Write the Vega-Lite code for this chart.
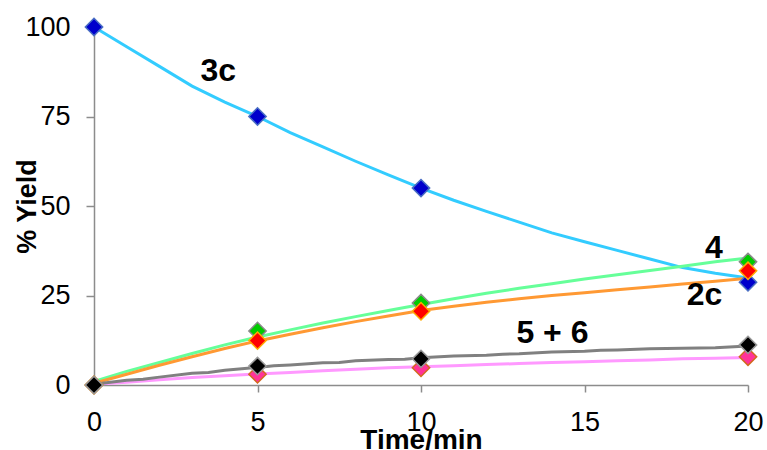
{
  "$schema": "https://vega.github.io/schema/vega-lite/v6.json",
  "width": 654,
  "height": 358,
  "autosize": {"type": "none"},
  "padding": {"left": 94, "top": 27, "right": 19, "bottom": 65},
  "background": "white",
  "config": {
    "view": {"stroke": null},
    "font": "Liberation Sans",
    "axis": {
      "grid": false,
      "domainColor": "#8c8c8c",
      "domainWidth": 1.5,
      "tickColor": "#8c8c8c",
      "tickWidth": 1.5,
      "labelColor": "#000000",
      "labelFont": "Liberation Sans",
      "labelFontSize": 27,
      "titleFont": "Liberation Sans",
      "titleFontWeight": "bold",
      "titleColor": "#000000"
    }
  },
  "datasets": {
    "curves": [
      {"t": 0, "v": 100, "s": "3c"}, {"t": 1, "v": 94.5, "s": "3c"}, {"t": 2, "v": 89, "s": "3c"}, {"t": 3, "v": 83.5, "s": "3c"}, {"t": 4, "v": 79, "s": "3c"}, {"t": 5, "v": 75, "s": "3c"}, {"t": 6, "v": 70.5, "s": "3c"}, {"t": 7, "v": 66.5, "s": "3c"}, {"t": 8, "v": 62.5, "s": "3c"}, {"t": 9, "v": 58.7, "s": "3c"}, {"t": 10, "v": 55, "s": "3c"}, {"t": 11, "v": 51.6, "s": "3c"}, {"t": 12, "v": 48.5, "s": "3c"}, {"t": 13, "v": 45.5, "s": "3c"}, {"t": 14, "v": 42.5, "s": "3c"}, {"t": 15, "v": 40, "s": "3c"}, {"t": 16, "v": 37.6, "s": "3c"}, {"t": 17, "v": 35.2, "s": "3c"}, {"t": 18, "v": 32.8, "s": "3c"}, {"t": 19, "v": 31.2, "s": "3c"}, {"t": 20, "v": 29.9, "s": "3c"},
      {"t": 0, "v": 1, "s": "4"}, {"t": 1, "v": 3.8, "s": "4"}, {"t": 2, "v": 6.3, "s": "4"}, {"t": 3, "v": 8.8, "s": "4"}, {"t": 4, "v": 11.2, "s": "4"}, {"t": 5, "v": 13.4, "s": "4"}, {"t": 6, "v": 15.4, "s": "4"}, {"t": 7, "v": 17.3, "s": "4"}, {"t": 8, "v": 19.1, "s": "4"}, {"t": 9, "v": 20.8, "s": "4"}, {"t": 10, "v": 22.5, "s": "4"}, {"t": 11, "v": 24.1, "s": "4"}, {"t": 12, "v": 25.6, "s": "4"}, {"t": 13, "v": 27, "s": "4"}, {"t": 14, "v": 28.3, "s": "4"}, {"t": 15, "v": 29.6, "s": "4"}, {"t": 16, "v": 30.8, "s": "4"}, {"t": 17, "v": 32, "s": "4"}, {"t": 18, "v": 33.2, "s": "4"}, {"t": 19, "v": 34.4, "s": "4"}, {"t": 20, "v": 35.5, "s": "4"},
      {"t": 0, "v": 0.5, "s": "2c"}, {"t": 1, "v": 3, "s": "2c"}, {"t": 2, "v": 5.5, "s": "2c"}, {"t": 3, "v": 7.9, "s": "2c"}, {"t": 4, "v": 10.2, "s": "2c"}, {"t": 5, "v": 12.3, "s": "2c"}, {"t": 6, "v": 14.2, "s": "2c"}, {"t": 7, "v": 16, "s": "2c"}, {"t": 8, "v": 17.7, "s": "2c"}, {"t": 9, "v": 19.3, "s": "2c"}, {"t": 10, "v": 20.8, "s": "2c"}, {"t": 11, "v": 22, "s": "2c"}, {"t": 12, "v": 23.1, "s": "2c"}, {"t": 13, "v": 24.1, "s": "2c"}, {"t": 14, "v": 25, "s": "2c"}, {"t": 15, "v": 25.8, "s": "2c"}, {"t": 16, "v": 26.6, "s": "2c"}, {"t": 17, "v": 27.4, "s": "2c"}, {"t": 18, "v": 28.2, "s": "2c"}, {"t": 19, "v": 29, "s": "2c"}, {"t": 20, "v": 29.8, "s": "2c"},
      {"t": 0, "v": 0.2, "s": "6"}, {"t": 1, "v": 0.8, "s": "6"}, {"t": 2, "v": 1.5, "s": "6"}, {"t": 3, "v": 2.1, "s": "6"}, {"t": 4, "v": 2.6, "s": "6"}, {"t": 5, "v": 3.1, "s": "6"}, {"t": 6, "v": 3.5, "s": "6"}, {"t": 7, "v": 4, "s": "6"}, {"t": 8, "v": 4.4, "s": "6"}, {"t": 9, "v": 4.8, "s": "6"}, {"t": 10, "v": 5.1, "s": "6"}, {"t": 11, "v": 5.4, "s": "6"}, {"t": 12, "v": 5.7, "s": "6"}, {"t": 13, "v": 6, "s": "6"}, {"t": 14, "v": 6.3, "s": "6"}, {"t": 15, "v": 6.5, "s": "6"}, {"t": 16, "v": 6.8, "s": "6"}, {"t": 17, "v": 7, "s": "6"}, {"t": 18, "v": 7.3, "s": "6"}, {"t": 19, "v": 7.5, "s": "6"}, {"t": 20, "v": 7.7, "s": "6"},
      {"t": 0, "v": 0.2, "s": "5"}, {"t": 1, "v": 1.3, "s": "5"}, {"t": 1.5, "v": 1.6, "s": "5"}, {"t": 2, "v": 2.2, "s": "5"}, {"t": 3, "v": 3.3, "s": "5"}, {"t": 3.5, "v": 3.5, "s": "5"}, {"t": 4, "v": 4.1, "s": "5"}, {"t": 5, "v": 4.9, "s": "5"}, {"t": 5.5, "v": 5.4, "s": "5"}, {"t": 6, "v": 5.6, "s": "5"}, {"t": 7, "v": 6.2, "s": "5"}, {"t": 7.5, "v": 6.3, "s": "5"}, {"t": 8, "v": 6.8, "s": "5"}, {"t": 9, "v": 7.1, "s": "5"}, {"t": 9.5, "v": 7.2, "s": "5"}, {"t": 10, "v": 7.6, "s": "5"}, {"t": 11, "v": 8.1, "s": "5"}, {"t": 12, "v": 8.3, "s": "5"}, {"t": 12.5, "v": 8.6, "s": "5"}, {"t": 13, "v": 8.7, "s": "5"}, {"t": 14, "v": 9.2, "s": "5"}, {"t": 15, "v": 9.4, "s": "5"}, {"t": 15.5, "v": 9.7, "s": "5"}, {"t": 16, "v": 9.8, "s": "5"}, {"t": 17, "v": 10.1, "s": "5"}, {"t": 18, "v": 10.3, "s": "5"}, {"t": 19, "v": 10.4, "s": "5"}, {"t": 20, "v": 10.9, "s": "5"}
    ],
    "points": [
      {"t": 0, "v": 100, "s": "3c"}, {"t": 5, "v": 75, "s": "3c"}, {"t": 10, "v": 55, "s": "3c"}, {"t": 20, "v": 28.7, "s": "3c"},
      {"t": 0, "v": 0, "s": "4"}, {"t": 5, "v": 15.1, "s": "4"}, {"t": 10, "v": 22.9, "s": "4"}, {"t": 20, "v": 34.4, "s": "4"},
      {"t": 0, "v": 0, "s": "2c"}, {"t": 5, "v": 12.4, "s": "2c"}, {"t": 10, "v": 20.6, "s": "2c"}, {"t": 20, "v": 31.9, "s": "2c"},
      {"t": 0, "v": 0, "s": "6"}, {"t": 5, "v": 3.0, "s": "6"}, {"t": 10, "v": 4.8, "s": "6"}, {"t": 20, "v": 7.9, "s": "6"},
      {"t": 0, "v": 0, "s": "5"}, {"t": 5, "v": 5.3, "s": "5"}, {"t": 10, "v": 7.3, "s": "5"}, {"t": 20, "v": 11.2, "s": "5"}
    ],
    "labels": [
      {"t": 3.8, "v": 87.7, "label": "3c"},
      {"t": 18.96, "v": 38.4, "label": "4"},
      {"t": 18.67, "v": 25.2, "label": "2c"},
      {"t": 14.02, "v": 14.4, "label": "5 + 6"}
    ]
  },
  "layer": [
    {
      "data": {"name": "curves"},
      "mark": {"type": "line", "strokeWidth": 3, "clip": false},
      "encoding": {
        "x": {
          "field": "t", "type": "quantitative",
          "scale": {"domain": [0, 20], "nice": false, "zero": false},
          "axis": {
            "values": [0, 5, 10, 15, 20],
            "title": "Time/min",
            "titleFontSize": 28,
            "titleY": 63,
            "titleBaseline": "alphabetic",
            "tickSize": 7,
            "labelPadding": 17,
            "labelFlush": false,
            "labelOverlap": false
          }
        },
        "y": {
          "field": "v", "type": "quantitative",
          "scale": {"domain": [0, 100], "nice": false},
          "axis": {
            "values": [0, 25, 50, 75, 100],
            "title": "% Yield",
            "titleFontSize": 27,
            "titleAngle": -90,
            "titleX": -59,
            "titleY": 179,
            "titleAlign": "center",
            "titleBaseline": "alphabetic",
            "tickSize": 8,
            "labelPadding": 16,
            "labelFlush": false,
            "labelOverlap": false
          }
        },
        "color": {
          "field": "s", "type": "nominal",
          "scale": {"domain": ["3c", "4", "2c", "6", "5"], "range": ["#33ccff", "#66ff99", "#ff9933", "#ff99ff", "#808080"]},
          "legend": null
        },
        "detail": {"field": "s"}
      }
    },
    {
      "data": {"name": "points"},
      "mark": {"type": "point", "shape": "diamond", "filled": true, "size": 300, "strokeWidth": 1.5, "opacity": 1, "clip": false},
      "encoding": {
        "x": {"field": "t", "type": "quantitative"},
        "y": {"field": "v", "type": "quantitative"},
        "fill": {
          "field": "s", "type": "nominal",
          "scale": {"domain": ["3c", "4", "2c", "6", "5"], "range": ["#0000cc", "#00cc00", "#ff0000", "#ff3399", "#000000"]},
          "legend": null
        },
        "stroke": {
          "field": "s", "type": "nominal",
          "scale": {"domain": ["3c", "4", "2c", "6", "5"], "range": ["#4a6fc4", "#8a8a8a", "#ffaa00", "#d2691e", "#9a9a9a"]},
          "legend": null
        }
      }
    },
    {
      "data": {"name": "labels"},
      "mark": {"type": "text", "font": "Liberation Sans", "fontWeight": "bold", "fontSize": 32, "align": "center", "baseline": "middle", "color": "#000000"},
      "encoding": {
        "x": {"field": "t", "type": "quantitative"},
        "y": {"field": "v", "type": "quantitative"},
        "text": {"field": "label"}
      }
    }
  ]
}
